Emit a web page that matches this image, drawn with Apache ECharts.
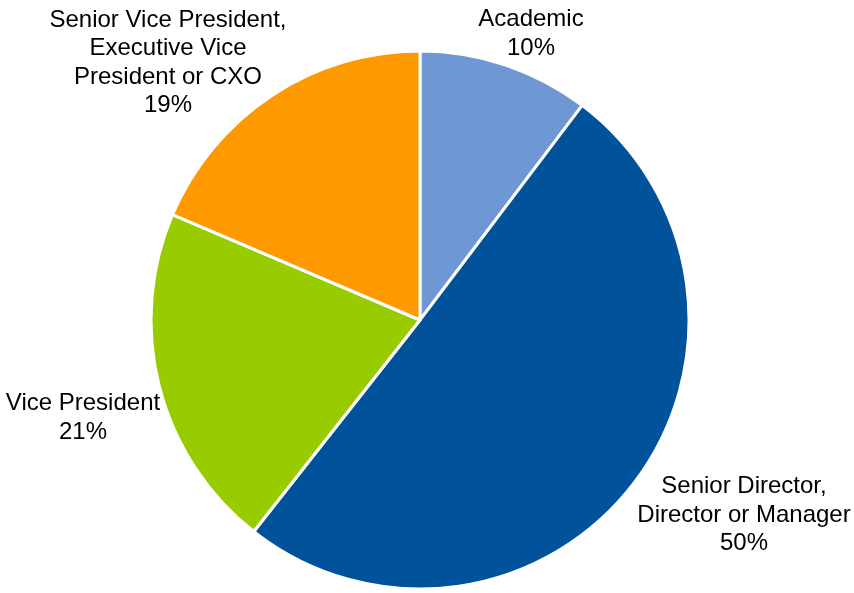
<!DOCTYPE html>
<html>
<head>
<meta charset="utf-8">
<script src="https://cdn.jsdelivr.net/npm/echarts@6/dist/echarts.min.js"></script>
<style>
html,body{margin:0;padding:0;background:#fff;}
#c{width:854px;height:593px;}
</style>
</head>
<body>
<div id="c"></div>
<script>
const categories = [
  "Academic",
  "Senior Director,\nDirector or Manager",
  "Vice President",
  "Senior Vice President,\nExecutive Vice\nPresident or CXO"
];
const values = [10.3, 50.3, 20.8, 18.6];
const colors = ["#6f97d4", "#00529b", "#99cc00", "#ff9900"];
const labelPos = [[531, 34], [744, 515], [83, 418], [168, 63]];

const chart = echarts.init(document.getElementById('c'));
chart.setOption({
  animation: false,
  series: [{
    type: 'pie',
    center: [420, 320],
    radius: 269,
    startAngle: 90,
    clockwise: true,
    data: categories.map((n, i) => ({name: n, value: values[i], itemStyle: {color: colors[i]}})),
    itemStyle: {borderColor: '#fff', borderWidth: 3},
    label: {
      show: true,
      position: 'inside',
      formatter: p => p.name + '\n' + Math.round(p.percent) + '%',
      fontFamily: 'Liberation Sans, Arial, sans-serif',
      fontSize: 24,
      lineHeight: 28.5,
      color: '#000',
      align: 'center',
      overflow: 'none'
    },
    labelLine: {show: false},
    labelLayout: function (params) {
      const p = labelPos[params.dataIndex];
      return {x: p[0], y: p[1], align: 'center', verticalAlign: 'middle'};
    },
    emphasis: {disabled: true}
  }]
});
</script>
</body>
</html>
